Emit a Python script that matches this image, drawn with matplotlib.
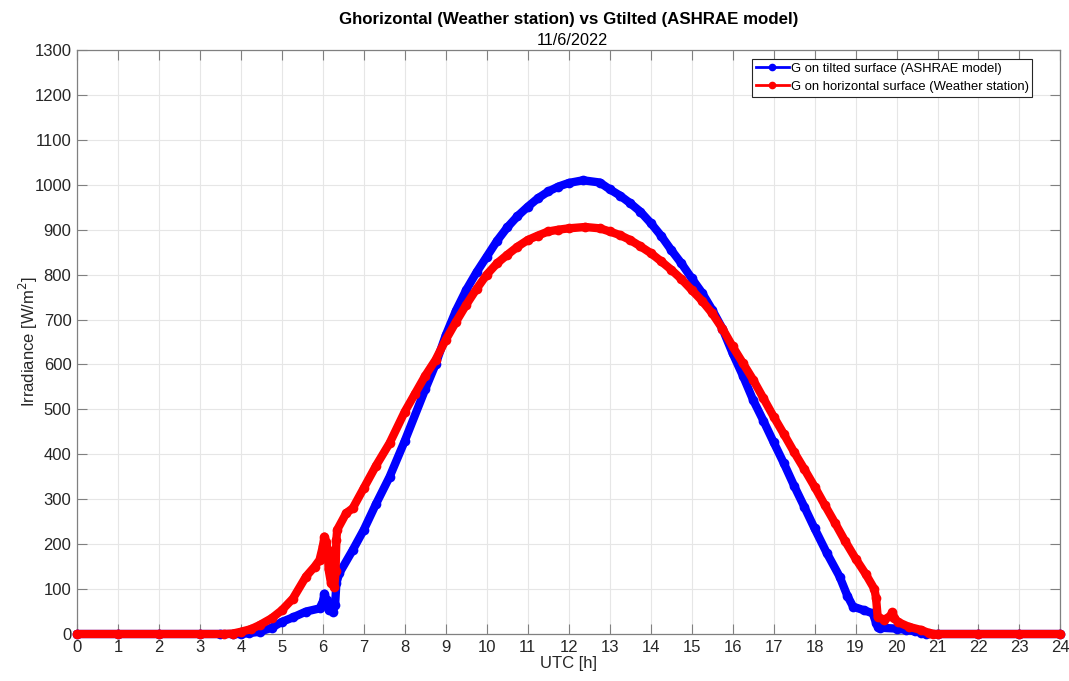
import numpy as np
import matplotlib.pyplot as plt
from matplotlib.lines import Line2D

plt.rcParams['font.family'] = ['Liberation Sans', 'DejaVu Sans']

# G on tilted surface (ASHRAE model), UTC hours vs W/m2
t_tilt = [0, 1, 2, 3, 3.5, 3.8, 4.0, 4.2, 4.46, 4.75, 5.0, 5.27, 5.59, 5.92,
          6.0, 6.04, 6.09, 6.15, 6.24, 6.3, 6.33, 6.4, 6.73, 7.0, 7.3, 7.63,
          8.0, 8.5, 8.75, 9.0, 9.25, 9.5, 9.75, 10.0, 10.25, 10.5, 10.75,
          11.0, 11.25, 11.5, 11.75, 12.0, 12.35, 12.76, 13.0, 13.25, 13.5,
          13.75, 14.0, 14.25, 14.5, 14.75, 15.0, 15.25, 15.5, 15.75, 16.0,
          16.25, 16.5, 16.75, 17.0, 17.25, 17.5, 17.75, 18.0, 18.3, 18.61,
          18.8, 18.94, 19.2, 19.42, 19.5, 19.55, 19.6, 20.0, 20.24, 20.45,
          20.6, 20.72, 21, 22, 23, 24]
g_tilt = [0, 0, 0, 0, 0, 0, 0, 2, 5, 14, 27, 37, 50, 57,
          72, 90, 75, 53, 50, 65, 113, 135, 187, 232, 290, 350,
          430, 545, 600, 665, 720, 766, 805, 840, 875, 905, 930,
          951, 970, 985, 996, 1004, 1010, 1005, 990, 976, 959,
          940, 915, 887, 855, 825, 792, 760, 722, 680, 625,
          575, 521, 475, 427, 380, 330, 283, 235, 180, 128,
          85, 61, 53, 46, 25, 15, 14, 12, 9, 6,
          3, 0, 0, 0, 0, 0]

# G on horizontal surface (Weather station)
t_hor = [0, 1, 2, 3, 3.6, 3.8, 4.0, 4.25, 4.46, 4.75, 5.0, 5.27, 5.59, 5.8,
         5.92, 6.0, 6.04, 6.08, 6.12, 6.14, 6.2, 6.28, 6.31, 6.33, 6.35,
         6.57, 6.73, 7.0, 7.3, 7.63, 8.0, 8.25, 8.5, 8.75, 9.0, 9.25, 9.5,
         9.75, 10.0, 10.25, 10.5, 10.75, 11.0, 11.25, 11.5, 11.75, 12.0,
         12.4, 12.76, 13.0, 13.25, 13.5, 13.75, 14.0, 14.25, 14.5, 14.75,
         15.0, 15.25, 15.5, 15.75, 16.0, 16.25, 16.5, 16.75, 17.0, 17.25,
         17.5, 17.75, 18.0, 18.25, 18.5, 18.75, 19.0, 19.25, 19.46, 19.5,
         19.54, 19.7, 19.85, 19.9, 19.95, 20.03, 20.3, 20.6, 20.8, 20.9,
         21, 22, 23, 24]
g_hor = [0, 0, 0, 0, 0, 1, 5, 11, 20, 35, 53, 79, 128, 150,
         165, 195, 217, 205, 187, 144, 113, 105, 140, 210, 232,
         269, 280, 325, 375, 425, 495, 535, 575, 610, 655, 695, 733,
         768, 800, 825, 844, 862, 877, 887, 896, 900, 903,
         906, 903, 896, 888, 877, 863, 848, 830, 811, 790,
         766, 742, 714, 680, 640, 603, 566, 525, 484, 445,
         405, 367, 328, 287, 247, 206, 168, 133, 100, 80,
         38, 32, 40, 48, 35, 27, 16, 9, 2, 0,
         0, 0, 0, 0]

label_tilt = 'G on tilted surface (ASHRAE model)'
label_hor = 'G on horizontal surface (Weather station)'

fig = plt.figure(figsize=(10.69, 6.81), dpi=100)
ax = fig.add_axes([0.072, 0.069, 0.920, 0.8576])

ax.plot(t_tilt, g_tilt, '-o', color='#0000ff', lw=6, ms=7, mew=0,
        solid_joinstyle='round', solid_capstyle='round', clip_on=False, zorder=3)
ax.plot(t_hor, g_hor, '-o', color='#ff0000', lw=6, ms=7, mew=0,
        solid_joinstyle='round', solid_capstyle='round', clip_on=False, zorder=4)

ax.set_xlim(0, 24)
ax.set_ylim(0, 1300)
ax.set_xticks(np.arange(0, 25, 1))
ax.set_yticks(np.arange(0, 1301, 100))
ax.grid(True, color='#e6e6e6', lw=0.8)
ax.set_axisbelow(True)
ax.tick_params(direction='in', length=7, width=0.8, top=True, right=True,
               labelsize=12, colors='#808080', labelcolor='#262626', pad=4)
for s in ax.spines.values():
    s.set_color('#808080')
    s.set_linewidth(0.9)

ax.set_xlabel('UTC [h]', fontsize=12, color='#262626', labelpad=1)
ax.set_ylabel('Irradiance [W/m$^2$]', fontsize=12, color='#262626', labelpad=-4)

fig.text(0.532, 0.972, 'Ghorizontal (Weather station) vs Gtilted (ASHRAE model)',
         ha='center', va='center', fontsize=12.2, fontweight='bold', color='#000000')
fig.text(0.535, 0.941, '11/6/2022', ha='center', va='center', fontsize=11.7,
         color='#000000')

handles = [Line2D([], [], color='#0000ff', lw=2, marker='o', ms=4.5),
           Line2D([], [], color='#ff0000', lw=2, marker='o', ms=4.5)]
leg = ax.legend(handles, [label_tilt, label_hor], loc='upper right',
                bbox_to_anchor=(0.9715, 0.985), fontsize=9.4, fancybox=False,
                framealpha=1, edgecolor='#262626', borderpad=0.3,
                labelspacing=0.45, handlelength=2.5, handletextpad=0.15,
                borderaxespad=0)
leg.get_frame().set_linewidth(0.8)

fig.savefig('out.png', dpi=100)
